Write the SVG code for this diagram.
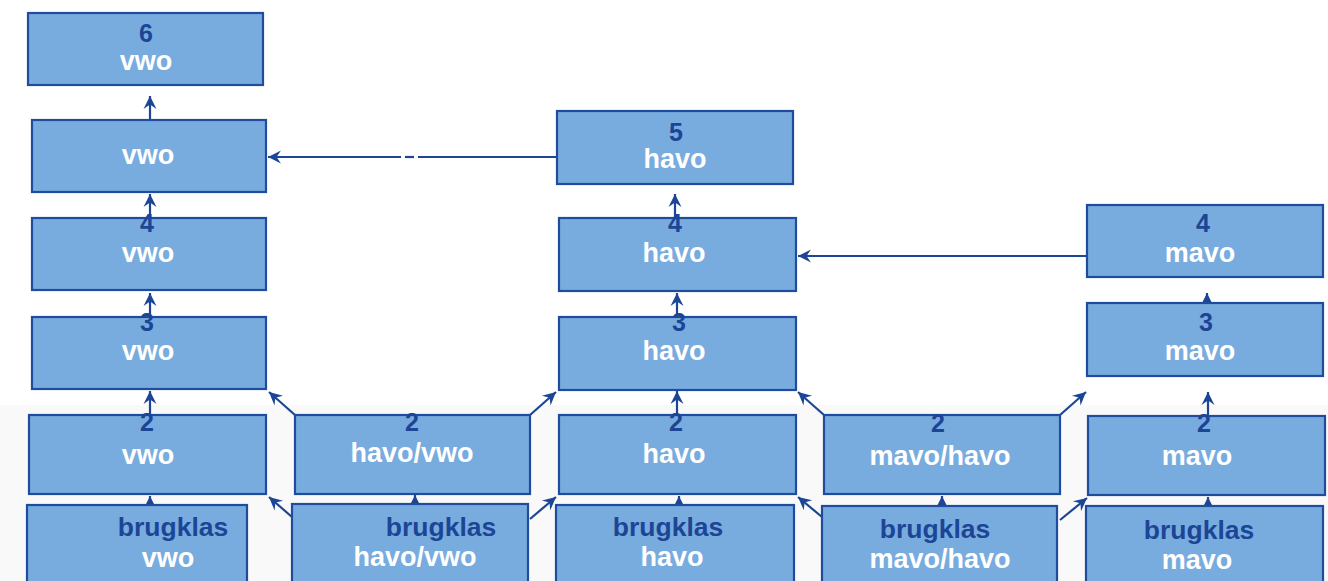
<svg xmlns="http://www.w3.org/2000/svg" width="1328" height="581" viewBox="0 0 1328 581">
<defs>
<style>
.n{fill:#78acde;stroke:#1f4c9c;stroke-width:2.2}
.num{font-family:"Liberation Sans",Arial,sans-serif;font-weight:bold;font-size:25px;fill:#1c4596;text-anchor:middle}
.lbl{font-family:"Liberation Sans",Arial,sans-serif;font-weight:bold;font-size:27px;fill:#ffffff;text-anchor:middle}
.bk{font-family:"Liberation Sans",Arial,sans-serif;font-weight:bold;font-size:26.5px;fill:#1c4596;text-anchor:middle}
.c{stroke:#1c4596;stroke-width:2.2;fill:none;marker-end:url(#a)}
.p{stroke:#1c4596;stroke-width:2.2;fill:none}
</style>
<marker id="a" markerUnits="userSpaceOnUse" markerWidth="16" markerHeight="16" viewBox="-14 -8 16 16" refX="0" refY="0" orient="auto">
<path d="M0,0 L-13,-6.5 L-8.5,0 L-13,6.5 Z" fill="#1c4596"/>
</marker>
</defs>
<rect x="0" y="0" width="1328" height="581" fill="#ffffff"/>
<rect x="0" y="405" width="1328" height="176" fill="#f9f9f9"/>

<g id="connectors">
<line class="c" x1="150" y1="120" x2="150" y2="96"/>
<line class="c" x1="150" y1="218" x2="150" y2="194"/>
<line class="c" x1="150" y1="317" x2="150" y2="293"/>
<line class="c" x1="150" y1="415" x2="150" y2="391"/>
<line class="c" x1="150" y1="506" x2="150" y2="496"/>
<line class="c" x1="295" y1="415" x2="269" y2="392"/>
<line class="c" x1="530" y1="415" x2="556" y2="392"/>
<line class="c" x1="292" y1="517" x2="269" y2="497"/>
<line class="c" x1="530" y1="519" x2="556" y2="497"/>
<line class="c" x1="415" y1="504" x2="415" y2="495"/>
<line class="p" x1="557" y1="157" x2="418" y2="157"/>
<line class="p" x1="414" y1="157" x2="405" y2="157"/>
<line class="c" x1="401" y1="157" x2="268" y2="157"/>
<line class="c" x1="675" y1="218" x2="675" y2="194"/>
<line class="c" x1="677" y1="317" x2="677" y2="293"/>
<line class="c" x1="677" y1="415" x2="677" y2="391"/>
<line class="c" x1="679" y1="506" x2="679" y2="496"/>
<line class="c" x1="824" y1="415" x2="798" y2="392"/>
<line class="c" x1="1060" y1="415" x2="1086" y2="392"/>
<line class="c" x1="822" y1="517" x2="798" y2="497"/>
<line class="c" x1="1060" y1="520" x2="1087" y2="498"/>
<line class="c" x1="942" y1="506" x2="942" y2="496"/>
<line class="c" x1="1087" y1="256" x2="798" y2="256"/>
<line class="c" x1="1207" y1="303" x2="1207" y2="293"/>
<line class="c" x1="1208" y1="416" x2="1208" y2="392"/>
<line class="c" x1="1208" y1="506" x2="1208" y2="497"/>
</g>

<g id="vwo6"><rect class="n" x="28" y="13" width="235" height="72"/><text class="num" x="146" y="42">6</text><text class="lbl" x="146" y="70">vwo</text></g>
<g id="vwo5"><rect class="n" x="32" y="120" width="234" height="72"/><text class="lbl" x="148" y="164">vwo</text></g>
<g id="vwo4"><rect class="n" x="32" y="218" width="234" height="72"/><text class="num" x="147" y="232">4</text><text class="lbl" x="148" y="262">vwo</text></g>
<g id="vwo3"><rect class="n" x="32" y="317" width="234" height="72"/><text class="num" x="147" y="331">3</text><text class="lbl" x="148" y="360">vwo</text></g>
<g id="vwo2"><rect class="n" x="29" y="415" width="237" height="79"/><text class="num" x="147" y="431">2</text><text class="lbl" x="148" y="464">vwo</text></g>
<g id="bkvwo"><rect class="n" x="27" y="505" width="220" height="80"/><text class="bk" x="173" y="536">brugklas</text><text class="lbl" x="168" y="567">vwo</text></g>

<g id="havovwo2"><rect class="n" x="295" y="415" width="235" height="79"/><text class="num" x="412" y="431">2</text><text class="lbl" x="412" y="462">havo/vwo</text></g>
<g id="bkhavovwo"><rect class="n" x="292" y="504" width="236" height="81"/><text class="bk" x="441" y="536">brugklas</text><text class="lbl" x="415" y="566">havo/vwo</text></g>

<g id="havo5"><rect class="n" x="557" y="111" width="236" height="73"/><text class="num" x="676" y="141">5</text><text class="lbl" x="675" y="168">havo</text></g>
<g id="havo4"><rect class="n" x="559" y="218" width="237" height="73"/><text class="num" x="675" y="232">4</text><text class="lbl" x="674" y="262">havo</text></g>
<g id="havo3"><rect class="n" x="559" y="317" width="237" height="73"/><text class="num" x="679" y="331">3</text><text class="lbl" x="674" y="360">havo</text></g>
<g id="havo2"><rect class="n" x="559" y="415" width="237" height="79"/><text class="num" x="676" y="431">2</text><text class="lbl" x="674" y="463">havo</text></g>
<g id="bkhavo"><rect class="n" x="556" y="505" width="238" height="80"/><text class="bk" x="668" y="536">brugklas</text><text class="lbl" x="672" y="566">havo</text></g>

<g id="mavohavo2"><rect class="n" x="824" y="415" width="236" height="79"/><text class="num" x="938" y="432">2</text><text class="lbl" x="940" y="465">mavo/havo</text></g>
<g id="bkmavohavo"><rect class="n" x="822" y="506" width="235" height="79"/><text class="bk" x="935" y="538">brugklas</text><text class="lbl" x="940" y="568">mavo/havo</text></g>

<g id="mavo4"><rect class="n" x="1087" y="205" width="236" height="72"/><text class="num" x="1203" y="232">4</text><text class="lbl" x="1200" y="262">mavo</text></g>
<g id="mavo3"><rect class="n" x="1087" y="303" width="236" height="73"/><text class="num" x="1206" y="331">3</text><text class="lbl" x="1200" y="360">mavo</text></g>
<g id="mavo2"><rect class="n" x="1088" y="416" width="237" height="79"/><text class="num" x="1204" y="432">2</text><text class="lbl" x="1197" y="465">mavo</text></g>
<g id="bkmavo"><rect class="n" x="1086" y="506" width="237" height="79"/><text class="bk" x="1199" y="539">brugklas</text><text class="lbl" x="1197" y="569">mavo</text></g>
</svg>
